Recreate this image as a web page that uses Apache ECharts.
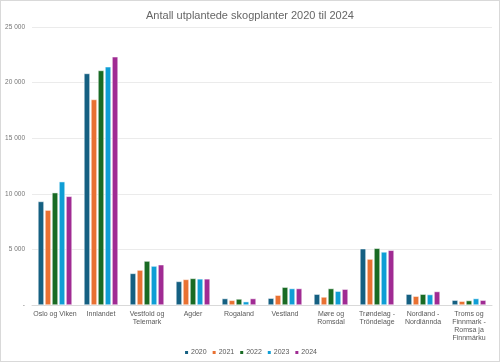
<!DOCTYPE html>
<html><head><meta charset="utf-8">
<script src="https://cdn.jsdelivr.net/npm/echarts@6/dist/echarts.min.js"></script>
<style>
html,body{margin:0;padding:0;background:#fff;}
#frame{position:absolute;left:0;top:0;width:498px;height:360px;border:1px solid #d9d9d9;}
#c{position:absolute;left:0;top:0;width:500px;height:364px;}
</style></head>
<body><div id="frame"></div><div id="c"></div>
<script>
const categories = ["Oslo og Viken","Innlandet","Vestfold og\nTelemark","Agder","Rogaland","Vestland","Møre og\nRomsdal","Trøndelag -\nTröndelage","Nordland -\nNordlánnda","Troms og\nFinnmark -\nRomsa ja\nFinnmárku"];
const years = ["2020","2021","2022","2023","2024"];
const v2020 = [9310, 20820, 2840, 2120, 580, 610, 970, 5060, 970, 430];
const v2021 = [8530, 18480, 3140, 2300, 420, 880, 720, 4130, 790, 340];
const v2022 = [10100, 21090, 3950, 2390, 540, 1600, 1480, 5100, 970, 400];
const v2023 = [11090, 21420, 3500, 2350, 300, 1480, 1240, 4770, 940, 580];
const v2024 = [9770, 22320, 3620, 2350, 580, 1480, 1420, 4920, 1210, 430];
const yTicks = [0, 5000, 10000, 15000, 20000, 25000];
const colors = ["#156082","#E97132","#196B24","#0F9ED5","#A02B93"];
const values = [v2020, v2021, v2022, v2023, v2024];
const font = "Liberation Sans, Noto Sans, sans-serif";
const chart = echarts.init(document.getElementById('c'), null, {renderer:'canvas'});
chart.setOption({
  animation:false,
  color: colors,
  title:{text:"Antall utplantede skogplanter 2020 til 2024", left:'center', top:5,
    textStyle:{fontSize:11, fontWeight:'normal', color:'#666666', fontFamily:font}},
  legend:{bottom:3, left:'center', itemWidth:5, itemHeight:5, itemGap:4, icon:'rect',
    textStyle:{fontSize:7, color:'#595959', fontFamily:font, padding:[0,0,0,-3]}},
  grid:{left:32, right:8, top:27, bottom:59, containLabel:false},
  xAxis:{type:'category', data:categories,
    axisLine:{lineStyle:{color:'#d9d9d9'}}, axisTick:{show:false},
    axisLabel:{fontSize:7, color:'#595959', fontFamily:font, interval:0, lineHeight:8, margin:5}},
  yAxis:{type:'value', min:yTicks[0], max:yTicks[yTicks.length-1], interval:5000,
    axisLine:{show:false}, axisTick:{show:false},
    splitLine:{lineStyle:{color:'#ebebeb'}},
    axisLabel:{fontSize:6.5, color:'#757575', fontFamily:font, margin:7,
      formatter: v => v===0 ? '-' : String(v).replace(/\B(?=(\d{3})+(?!\d))/g,' ')}},
  series: years.map((y,i)=>({name:y, type:'bar', data:values[i], barGap:'18%', barCategoryGap:'26%',
    itemStyle:{borderColor:'#ffffff', borderWidth:0.5}}))
});
</script></body></html>
